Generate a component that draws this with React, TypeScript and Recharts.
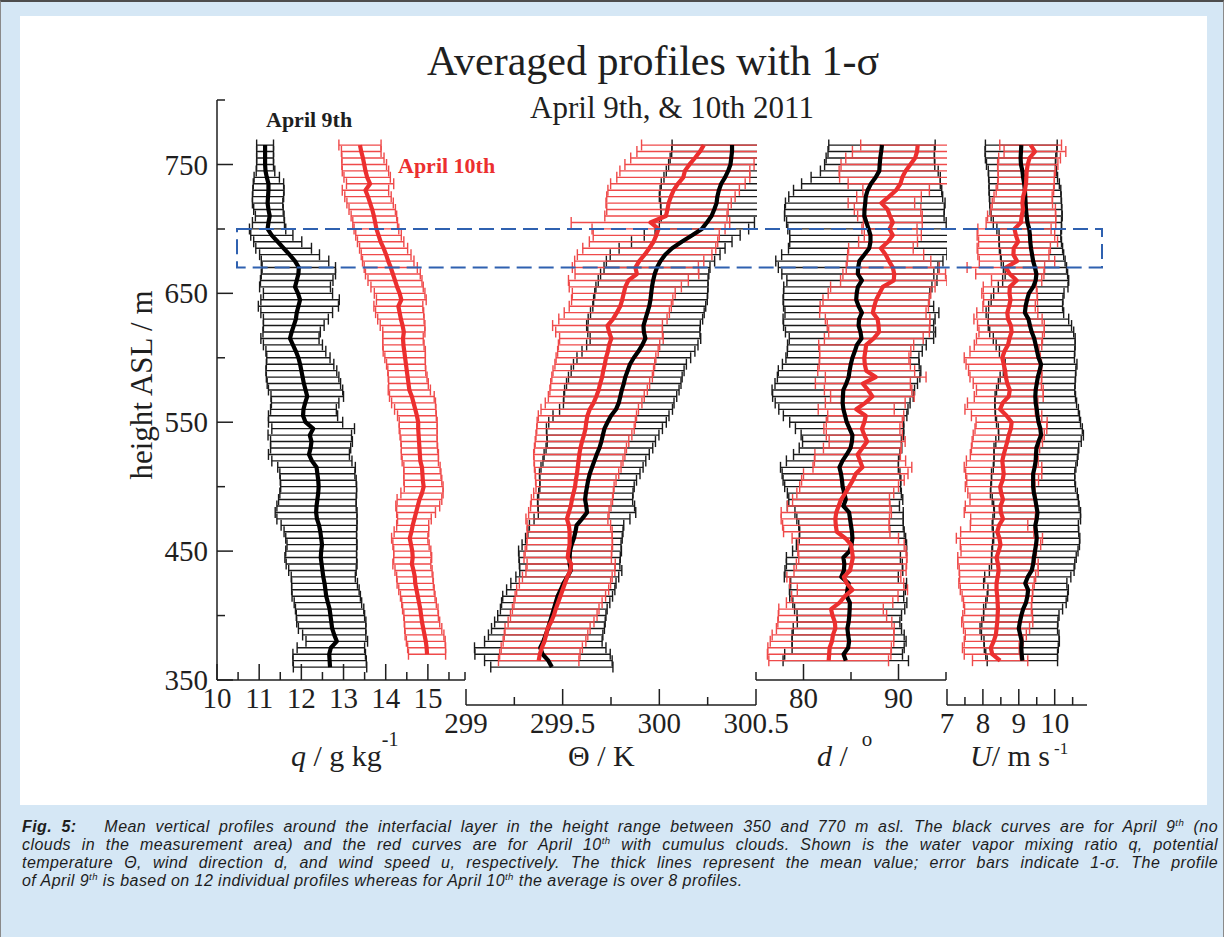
import { ScatterChart, Scatter, XAxis, YAxis, ErrorBar, ReferenceArea } from "recharts";

const SERIF = "'Liberation Serif', 'Times New Roman', Times, serif";
const SANS = "'Liberation Sans', Arial, Helvetica, sans-serif";
const INK = "#1f1f1f";
const RED = "#ec2f2f";
const RED_BAR = "#ef4a4a";
const BOX_BLUE = "#2f61b0";
const FRAME_BLUE = "#d5e7f5";

// heights (m asl), shared by all profiles; null = no value at that level
const HEIGHTS = [
  360, 365, 370, 375, 380, 385, 390, 395, 400, 405,
  410, 415, 420, 425, 430, 435, 440, 445, 450, 455,
  460, 465, 470, 475, 480, 485, 490, 495, 500, 505,
  510, 515, 520, 525, 530, 535, 540, 545, 550, 555,
  560, 565, 570, 575, 580, 585, 590, 595, 600, 605,
  610, 615, 620, 625, 630, 635, 640, 645, 650, 655,
  660, 665, 670, 675, 680, 685, 690, 695, 700, 705,
  710, 715, 720, 725, 730, 735, 740, 745, 750, 755,
  760, 765,
];

// q (g/kg), April 9th
const Q_APR9 = [
  12.68, 12.67, 12.66, 12.70, 12.84, 12.78, 12.73, 12.71, 12.69, 12.67,
  12.63, 12.59, 12.57, 12.55, 12.52, 12.50, 12.48, 12.46, 12.47, 12.49,
  12.47, 12.45, 12.42, 12.37, 12.35, 12.36, 12.38, 12.40, 12.41, 12.40,
  12.38, 12.36, 12.25, 12.18, 12.22, 12.24, 12.20, 12.28, 12.10, 12.04,
  12.05, 12.09, 12.14, 12.10, 12.06, 12.03, 12.00, 11.97, 11.93, 11.87,
  11.80, 11.73, 11.77, 11.82, 11.87, 11.89, 11.93, 11.97, 11.92, 11.85,
  11.89, 11.93, 11.94, 11.85, 11.72, 11.58, 11.44, 11.30, 11.20, 11.22,
  11.25, 11.22, 11.20, 11.21, 11.22, 11.22, 11.18, 11.15, 11.14, 11.14,
  11.14, 11.14,
];
const Q_APR9_SD = [
  0.87, 0.87, 0.86, 0.80, 0.73, 0.75, 0.80, 0.82, 0.81, 0.81,
  0.80, 0.81, 0.80, 0.78, 0.76, 0.80, 0.84, 0.85, 0.84, 0.83,
  0.84, 0.86, 0.90, 0.95, 0.97, 0.94, 0.92, 0.91, 0.90, 0.90,
  0.89, 0.92, 0.95, 0.96, 0.95, 0.97, 0.99, 0.98, 0.88, 0.82,
  0.78, 0.80, 0.86, 0.88, 0.87, 0.86, 0.84, 0.80, 0.75, 0.71,
  0.70, 0.69, 0.68, 0.72, 0.77, 0.85, 0.95, 0.93, 0.82, 0.84,
  0.86, 0.88, 0.87, 0.80, 0.71, 0.66, 0.57, 0.50, 0.43, 0.38,
  0.34, 0.35, 0.36, 0.37, 0.37, 0.36, 0.30, 0.22, 0.20, 0.20,
  0.20, 0.20,
];
// q (g/kg), April 10th
const Q_APR10 = [
  null, null, 14.98, 14.97, 14.95, 14.92, 14.89, 14.86, 14.84, 14.82,
  14.79, 14.76, 14.73, 14.70, 14.69, 14.66, 14.62, 14.64, 14.63, 14.60,
  14.57, 14.61, 14.64, 14.68, 14.72, 14.76, 14.80, 14.86, 14.90, 14.88,
  14.87, 14.86, 14.82, 14.81, 14.80, 14.79, 14.78, 14.77, 14.77, 14.74,
  14.70, 14.66, 14.62, 14.56, 14.54, 14.52, 14.50, 14.48, 14.46, 14.44,
  14.42, 14.41, 14.43, 14.40, 14.36, 14.33, 14.30, 14.37, 14.33, 14.27,
  14.22, 14.17, 14.12, 14.06, 14.01, 13.95, 13.88, 13.83, 13.78, 13.75,
  13.72, 13.68, 13.63, 13.58, 13.52, 13.63, 13.56, 13.52, 13.49, 13.46,
  13.42, 13.39,
];
const Q_APR10_SD = [
  null, null, 0.44, 0.45, 0.46, 0.46, 0.44, 0.42, 0.41, 0.42,
  0.41, 0.41, 0.42, 0.43, 0.43, 0.44, 0.45, 0.45, 0.44, 0.43,
  0.43, 0.41, 0.38, 0.40, 0.46, 0.52, 0.53, 0.50, 0.46, 0.45,
  0.44, 0.43, 0.43, 0.44, 0.43, 0.43, 0.44, 0.45, 0.45, 0.46,
  0.49, 0.52, 0.53, 0.50, 0.47, 0.46, 0.45, 0.46, 0.48, 0.50,
  0.49, 0.48, 0.50, 0.53, 0.55, 0.57, 0.58, 0.59, 0.60, 0.62,
  0.64, 0.65, 0.63, 0.61, 0.59, 0.57, 0.55, 0.54, 0.53, 0.53,
  0.54, 0.55, 0.55, 0.55, 0.55, 0.56, 0.55, 0.55, 0.53, 0.50,
  0.47, 0.50,
];

// potential temperature (K), April 9th
const TH_APR9 = [
  299.444, 299.426, 299.396, 299.384, 299.400, 299.412, 299.424, 299.434, 299.444, 299.454,
  299.464, 299.474, 299.490, 299.504, 299.524, 299.542, 299.536, 299.536, 299.538, 299.546,
  299.558, 299.566, 299.572, 299.600, 299.626, 299.622, 299.616, 299.620, 299.626, 299.632,
  299.640, 299.652, 299.664, 299.676, 299.690, 299.700, 299.708, 299.716, 299.732, 299.750,
  299.776, 299.790, 299.798, 299.806, 299.816, 299.824, 299.836, 299.848, 299.868, 299.892,
  299.912, 299.928, 299.920, 299.918, 299.928, 299.938, 299.948, 299.954, 299.958, 299.962,
  299.968, 299.976, 299.988, 300.006, 300.030, 300.066, 300.116, 300.170, 300.220, 300.246,
  300.270, 300.284, 300.296, 300.300, 300.308, 300.320, 300.340, 300.356, 300.368, 300.372,
  300.376, 300.376,
];
const TH_APR9_SD = [
  0.316, 0.330, 0.350, 0.340, 0.304, 0.296, 0.292, 0.286, 0.280, 0.276,
  0.280, 0.284, 0.280, 0.272, 0.266, 0.264, 0.260, 0.262, 0.266, 0.256,
  0.250, 0.246, 0.244, 0.248, 0.252, 0.250, 0.246, 0.244, 0.244, 0.250,
  0.260, 0.264, 0.266, 0.272, 0.276, 0.280, 0.290, 0.300, 0.304, 0.300,
  0.292, 0.286, 0.292, 0.296, 0.296, 0.294, 0.292, 0.292, 0.294, 0.292,
  0.288, 0.286, 0.290, 0.294, 0.296, 0.294, 0.292, 0.294, 0.292, 0.290,
  0.284, 0.280, 0.274, 0.280, 0.284, 0.274, 0.260, 0.248, 0.242, 0.246,
  0.260, 0.276, 0.290, 0.300, 0.304, 0.310, 0.316, 0.320, 0.320, 0.316,
  0.312, 0.310,
];
// potential temperature (K), April 10th
const TH_APR10 = [
  null, 299.376, 299.382, 299.392, 299.406, 299.414, 299.422, 299.440, 299.454, 299.464,
  299.476, 299.488, 299.500, 299.512, 299.524, 299.540, 299.544, 299.526, 299.530, 299.536,
  299.536, 299.536, 299.532, 299.522, 299.532, 299.542, 299.548, 299.556, 299.564, 299.568,
  299.574, 299.578, 299.582, 299.586, 299.592, 299.600, 299.610, 299.618, 299.622, 299.628,
  299.640, 299.660, 299.674, 299.686, 299.694, 299.704, 299.710, 299.718, 299.724, 299.734,
  299.740, 299.752, 299.740, 299.732, 299.760, 299.780, 299.798, 299.808, 299.816, 299.824,
  299.840, 299.884, 299.876, 299.896, 299.924, 299.948, 299.970, 299.984, 299.996, 299.954,
  300.034, 300.042, 300.048, 300.060, 300.074, 300.096, 300.124, 300.132, 300.156, 300.184,
  300.210, 300.230,
];
const TH_APR10_SD = [
  null, 0.208, 0.208, 0.210, 0.214, 0.216, 0.220, 0.222, 0.224, 0.224,
  0.228, 0.234, 0.238, 0.236, 0.232, 0.230, 0.228, 0.226, 0.224, 0.222,
  0.220, 0.220, 0.216, 0.212, 0.208, 0.208, 0.210, 0.206, 0.202, 0.208,
  0.216, 0.224, 0.230, 0.236, 0.238, 0.242, 0.248, 0.252, 0.254, 0.254,
  0.252, 0.250, 0.248, 0.252, 0.256, 0.260, 0.260, 0.258, 0.258, 0.260,
  0.262, 0.268, 0.276, 0.284, 0.280, 0.272, 0.264, 0.262, 0.266, 0.290,
  0.310, 0.320, 0.326, 0.334, 0.348, 0.344, 0.332, 0.326, 0.344, 0.410,
  0.316, 0.314, 0.324, 0.332, 0.340, 0.348, 0.344, 0.336, 0.334, 0.332,
  0.326, 0.322,
];

// wind direction (deg), April 9th
const D_APR9 = [
  null, 84.45, 84.22, 84.70, 84.80, 84.70, 84.62, 84.75, 84.82, 84.86,
  84.88, 84.55, 84.62, 84.75, 83.98, 84.25, 84.30, 84.20, 84.85, 85.05,
  85.15, 85.10, 85.00, 84.90, 84.80, 84.20, 84.45, 84.30, 84.12, 84.05,
  83.95, 83.78, 84.10, 84.55, 84.95, 85.10, 85.15, 84.85, 84.55, 84.38,
  84.20, 84.12, 84.15, 84.19, 84.50, 84.75, 84.85, 84.98, 85.15, 85.40,
  85.62, 86.10, 86.00, 85.80, 85.85, 86.15, 85.80, 85.55, 85.60, 85.72,
  86.15, 85.72, 85.75, 85.88, 86.40, 86.92, 87.05, 87.05, 86.85, 86.62,
  86.40, 86.42, 86.50, 86.55, 86.75, 87.10, 87.60, 87.98, 88.02, 88.08,
  88.18, 88.26,
];
const D_APR9_SD = [
  null, 6.6, 6.2, 5.9, 6.0, 5.9, 5.7, 5.4, 5.5, 5.8,
  6.0, 6.0, 6.1, 6.1, 6.0, 6.2, 6.1, 6.0, 6.0, 5.8,
  5.6, 5.5, 5.5, 5.6, 5.7, 5.9, 6.0, 6.0, 6.1, 6.2,
  6.2, 6.2, 5.9, 5.6, 5.4, 5.2, 5.4, 5.7, 6.0, 6.5,
  6.8, 7.1, 7.4, 7.5, 7.5, 7.5, 7.5, 7.2, 7.0, 7.1,
  7.3, 7.6, 7.9, 7.9, 8.0, 8.1, 7.9, 7.7, 7.7, 7.8,
  7.9, 8.0, 8.4, 8.8, 8.7, 8.5, 8.5, 8.5, 8.5, 8.4,
  8.4, 8.4, 8.4, 8.1, 7.8, 7.3, 6.8, 6.2, 5.8, 5.7,
  5.6, 5.6,
];
// wind direction (deg), April 10th
const D_APR10 = [
  null, 82.65, 82.70, 82.75, 83.00, 83.10, 83.35, 83.30, 83.05, 82.90,
  83.80, 84.35, 85.15, 84.55, 84.25, 84.90, 85.05, 85.20, 85.10, 85.00,
  84.40, 83.50, 83.40, 83.35, 83.45, 83.70, 83.95, 84.40, 84.80, 85.20,
  85.50, 86.20, 85.95, 85.70, 86.20, 86.70, 86.40, 86.15, 86.40, 86.55,
  85.55, 86.50, 87.25, 86.80, 86.25, 87.60, 86.60, 86.45, 86.40, 86.50,
  86.60, 87.40, 87.95, 87.90, 87.80, 87.30, 87.45, 87.65, 88.00, 88.35,
  89.50, 89.55, 89.40, 89.00, 88.65, 88.15, 88.90, 89.40, 89.05, 89.40,
  89.10, 88.85, 88.20, 89.00, 89.75, 90.20, 90.40, 90.75, 91.25, 91.75,
  91.95, 92.02,
];
const D_APR10_SD = [
  null, 6.3, 6.5, 6.5, 6.5, 6.4, 6.2, 6.0, 5.7, 5.5,
  5.6, 5.6, 5.8, 6.0, 6.0, 5.9, 5.8, 5.7, 5.7, 5.6,
  5.6, 5.6, 5.6, 5.7, 5.8, 5.4, 5.1, 5.1, 5.2, 5.4,
  5.5, 5.2, 4.8, 4.5, 4.1, 4.0, 4.0, 4.0, 4.0, 4.0,
  4.0, 4.2, 4.4, 4.6, 5.0, 5.3, 5.1, 4.8, 4.7, 4.8,
  5.0, 5.2, 5.3, 5.4, 5.5, 5.6, 5.7, 5.6, 5.4, 5.5,
  5.6, 5.4, 4.9, 4.4, 4.0, 3.4, 3.1, 3.0, 2.9, 3.1,
  3.4, 3.5, 3.5, 3.4, 3.5, 5.5, 6.6, 7.0, 7.3, 7.3,
  6.8, 6.0,
];

// wind speed (m/s), April 9th
const U_APR9 = [
  null, 9.10, 9.08, 9.07, 9.08, 9.04, 9.00, 9.03, 9.07, 9.12,
  9.20, 9.24, 9.26, 9.18, 9.25, 9.36, 9.40, 9.42, 9.45, 9.48,
  9.50, 9.48, 9.46, 9.50, 9.52, 9.49, 9.46, 9.42, 9.40, 9.40,
  9.40, 9.44, 9.47, 9.48, 9.49, 9.55, 9.62, 9.60, 9.55, 9.52,
  9.50, 9.47, 9.46, 9.47, 9.50, 9.53, 9.58, 9.62, 9.55, 9.51,
  9.47, 9.43, 9.36, 9.31, 9.27, 9.17, 9.19, 9.23, 9.28, 9.40,
  9.47, 9.49, 9.45, 9.40, 9.37, 9.34, 9.32, 9.31, 9.29, 9.24,
  9.22, 9.20, 9.19, 9.18, 9.17, 9.15, 9.12, 9.10, 9.06, 9.05,
  9.06, 9.07,
];
const U_APR9_SD = [
  null, 0.98, 1.00, 1.03, 1.05, 1.08, 1.08, 1.06, 1.05, 1.10,
  1.12, 1.12, 1.12, 1.16, 1.20, 1.18, 1.16, 1.18, 1.20, 1.21,
  1.20, 1.19, 1.20, 1.22, 1.20, 1.19, 1.20, 1.21, 1.18, 1.16,
  1.16, 1.15, 1.16, 1.17, 1.18, 1.19, 1.18, 1.17, 1.17, 1.17,
  1.16, 1.14, 1.12, 1.09, 1.07, 1.05, 1.01, 1.00, 1.00, 1.05,
  1.10, 1.14, 1.17, 1.16, 1.12, 1.08, 1.03, 1.00, 0.98, 0.97,
  0.92, 0.87, 0.88, 0.89, 0.88, 0.88, 0.87, 0.86, 0.90, 0.95,
  0.99, 1.00, 1.00, 1.00, 1.00, 0.98, 0.96, 0.95, 0.96, 0.98,
  1.00, 1.00,
];
// wind speed (m/s), April 10th
const U_APR10 = [
  null, 8.48, 8.26, 8.22, 8.30, 8.36, 8.38, 8.40, 8.41, 8.42,
  8.41, 8.40, 8.38, 8.38, 8.41, 8.44, 8.42, 8.38, 8.44, 8.49,
  8.46, 8.40, 8.45, 8.56, 8.50, 8.49, 8.56, 8.51, 8.48, 8.55,
  8.58, 8.56, 8.54, 8.58, 8.63, 8.68, 8.72, 8.78, 8.80, 8.66,
  8.48, 8.55, 8.72, 8.75, 8.68, 8.64, 8.62, 8.58, 8.54, 8.60,
  8.70, 8.74, 8.80, 8.78, 8.70, 8.68, 8.73, 8.77, 8.74, 8.75,
  8.94, 8.75, 8.64, 8.95, 8.85, 8.86, 8.98, 8.92, 8.88, 9.06,
  9.08, 9.12, 9.10, 9.12, 9.17, 9.20, 9.21, 9.22, 9.25, 9.30,
  9.45, 9.33,
];
const U_APR10_SD = [
  null, 0.77, 0.78, 0.79, 0.82, 0.85, 0.92, 0.99, 0.97, 0.93,
  0.95, 0.98, 1.01, 1.05, 1.06, 1.10, 1.12, 1.08, 1.05, 1.12,
  1.20, 1.02, 0.80, 0.90, 1.02, 0.98, 0.92, 0.93, 0.97, 1.00,
  1.06, 1.08, 1.00, 0.93, 0.95, 0.98, 0.99, 1.00, 0.99, 0.98,
  0.98, 0.98, 0.96, 0.93, 0.95, 1.00, 1.02, 1.05, 1.06, 0.96,
  0.94, 0.92, 0.91, 0.93, 0.95, 0.85, 0.73, 0.75, 0.77, 0.74,
  0.70, 0.95, 1.08, 1.05, 0.99, 1.02, 1.10, 1.08, 1.02, 0.97,
  0.95, 0.90, 0.84, 0.81, 0.80, 0.79, 0.78, 0.80, 0.84, 0.86,
  0.86, 0.86,
];

// axes
const Y_TICKS = [350, 400, 450, 500, 550, 600, 650, 700, 750, 800];
const Y_LABELED = [350, 450, 550, 650, 750];
const Q_TICKS = [10, 10.5, 11, 11.5, 12, 12.5, 13, 13.5, 14, 14.5, 15, 15.5, 15.88];
const Q_LABELED = [10, 11, 12, 13, 14, 15];
const TH_TICKS = [299, 299.25, 299.5, 299.75, 300, 300.25, 300.5];
const TH_LABELED = [299, 299.5, 300, 300.5];
const D_TICKS = [75, 80, 85, 90, 95];
const D_LABELED = [80, 90];
const U_TICKS = [7, 7.5, 8, 8.5, 9, 9.5, 10, 10.5];
const U_LABELED = [7, 8, 9, 10];
// interfacial layer marked by the dashed box (m asl)
const BOX_HEIGHTS = [670, 700];

// page geometry
const PLOT_TOP = 100;
const BASE_Y = 680; // pixel row of 350 m
const Y_MIN = 350;
const Y_MAX = 800;
const PX_PER_M = (BASE_Y - PLOT_TOP) / (Y_MAX - Y_MIN);
const MT = 20;
const MB = 5;
const SIDE = 40;
const XH = 50;
const YW = 120;

type Row = { h: number; v: number; s: number };

function profile(mean: (number | null)[], sd: (number | null)[]): Row[] {
  const out: Row[] = [];
  HEIGHTS.forEach((h, i) => {
    const v = mean[i];
    const s = sd[i];
    if (v != null && s != null) out.push({ h, v, s });
  });
  return out;
}

const noShape = () => <g />;

function xTick(labeled: number[]) {
  return (props: any) => {
    const { x, y, payload } = props;
    const major = labeled.includes(payload.value);
    return (
      <g>
        <line x1={x} x2={x} y1={y} y2={y - (major ? 16 : 8)} stroke={INK} strokeWidth={1.5} />
        {major && (
          <text x={x} y={y + 28} textAnchor="middle" fontFamily={SERIF} fontSize={29} fill={INK}>
            {payload.value}
          </text>
        )}
      </g>
    );
  };
}

function yTick(props: any) {
  const { x, y, payload } = props;
  const major = Y_LABELED.includes(payload.value);
  return (
    <g>
      <line x1={x} x2={x + (major ? 16 : 8)} y1={y} y2={y} stroke={INK} strokeWidth={1.5} />
      {major && (
        <text x={x - 9} y={y} dy="0.35em" textAnchor="end" fontFamily={SERIF} fontSize={29} fill={INK}>
          {payload.value}
        </text>
      )}
    </g>
  );
}

function Panel({
  plotLeft,
  plotRight,
  axisY,
  domain,
  ticks,
  labeled,
  black,
  red,
  showY = false,
}: {
  plotLeft: number;
  plotRight: number;
  axisY: number;
  domain: [number, number];
  ticks: number[];
  labeled: number[];
  black: Row[];
  red: Row[];
  showY?: boolean;
}) {
  // panels with the lower x axis just get a longer plot area
  const yLow = Y_MIN - (axisY - BASE_Y) / PX_PER_M;
  const yw = showY ? YW : 0;
  const width = SIDE + yw + (plotRight - plotLeft) + SIDE;
  const height = MT + (axisY - PLOT_TOP) + XH + MB;
  // error bars that run past the right end of the axis are cut there, tick labels below are kept
  const cutX = SIDE + yw + (plotRight - plotLeft) + 1;
  const cutY = MT + (axisY - PLOT_TOP) - 2;
  const clip = `polygon(0 0, ${cutX}px 0, ${cutX}px ${cutY}px, ${width}px ${cutY}px, ${width}px ${height}px, 0 ${height}px)`;
  return (
    <div style={{ position: "absolute", left: plotLeft - yw - SIDE, top: PLOT_TOP - MT, clipPath: clip }}>
      <ScatterChart width={width} height={height} margin={{ top: MT, right: SIDE, bottom: MB, left: SIDE }}>
        <XAxis
          type="number"
          dataKey="v"
          domain={domain}
          ticks={ticks}
          interval={0}
          allowDataOverflow
          height={XH}
          tickSize={0}
          tickMargin={0}
          tickLine={false}
          axisLine={{ stroke: INK, strokeWidth: 1.5 }}
          tick={xTick(labeled)}
        />
        <YAxis
          type="number"
          dataKey="h"
          domain={[yLow, Y_MAX]}
          allowDataOverflow
          hide={!showY}
          width={yw}
          ticks={Y_TICKS}
          interval={0}
          tickSize={0}
          tickMargin={0}
          tickLine={false}
          axisLine={{ stroke: INK, strokeWidth: 1.5 }}
          tick={yTick}
        />
        <Scatter data={black} fill="none" shape={noShape} isAnimationActive={false}>
          <ErrorBar dataKey="s" direction="x" width={5.5} stroke="#1a1a1a" strokeWidth={1.4} isAnimationActive={false} />
        </Scatter>
        <Scatter data={red} fill="none" shape={noShape} isAnimationActive={false}>
          <ErrorBar dataKey="s" direction="x" width={5.5} stroke={RED_BAR} strokeWidth={1.4} isAnimationActive={false} />
        </Scatter>
        <Scatter
          data={black}
          fill="none"
          shape={noShape}
          line={{ stroke: "#000", strokeWidth: 4.2, strokeLinejoin: "round" }}
          lineJointType="linear"
          isAnimationActive={false}
        />
        <Scatter
          data={red}
          fill="none"
          shape={noShape}
          line={{ stroke: RED, strokeWidth: 4.2, strokeLinejoin: "round" }}
          lineJointType="linear"
          isAnimationActive={false}
        />
      </ScatterChart>
    </div>
  );
}

function DashedBox() {
  const left = 237;
  const right = 1102;
  return (
    <div style={{ position: "absolute", left: left - 2, top: PLOT_TOP - MT }}>
      <ScatterChart width={right - left + 4} height={MT + (BASE_Y - PLOT_TOP) + MB} margin={{ top: MT, right: 2, bottom: MB, left: 2 }}>
        <XAxis type="number" dataKey="x" domain={[0, 1]} hide allowDataOverflow />
        <YAxis type="number" dataKey="h" domain={[Y_MIN, Y_MAX]} hide allowDataOverflow />
        <ReferenceArea
          y1={BOX_HEIGHTS[0]}
          y2={BOX_HEIGHTS[1]}
          fill="none"
          fillOpacity={0}
          stroke={BOX_BLUE}
          strokeWidth={2}
          strokeDasharray="15 7"
          ifOverflow="visible"
        />
      </ScatterChart>
    </div>
  );
}

const sup = { fontSize: "0.6em", lineHeight: 0, verticalAlign: "0.6em" } as const;
const lineStyle = { textAlign: "justify", textAlignLast: "justify", whiteSpace: "nowrap" } as const;

export default function App() {
  return (
    <div style={{ position: "relative", width: 1224, height: 937, overflow: "hidden" }}>
      <style>{"body{margin:0}"}</style>
      <div
        style={{
          position: "absolute",
          inset: 0,
          background: FRAME_BLUE,
          borderTop: "2px solid #4d4d4d",
          borderLeft: "1px solid #8a8a8a",
          borderRight: "1px solid #8a8a8a",
          boxSizing: "border-box",
        }}
      />
      <div style={{ position: "absolute", left: 20, top: 16, width: 1187, height: 789, background: "#fff" }} />

      <svg width={1224} height={937} style={{ position: "absolute", left: 0, top: 0 }}>
        <g fontFamily={SERIF} fill={INK}>
          <text x={653} y={75} textAnchor="middle" fontSize={42}>
            Averaged profiles with 1-σ
          </text>
          <text x={672} y={118} textAnchor="middle" fontSize={31}>
            April 9th, &amp; 10th 2011
          </text>
          <text x={266} y={127} fontSize={22} fontWeight="bold">
            April 9th
          </text>
          <text x={398} y={173} fontSize={22} fontWeight="bold" fill={RED}>
            April 10th
          </text>
          <text transform="translate(152, 385) rotate(-90)" textAnchor="middle" fontSize={31}>
            height ASL / m
          </text>
          <text x={291} y={766} fontSize={30}>
            <tspan fontStyle="italic">q</tspan> / g kg
            <tspan dy={-20} fontSize={20}>-1</tspan>
          </text>
          <text x={568} y={766} fontSize={30}>
            Θ / K
          </text>
          <text x={817} y={766} fontSize={30}>
            <tspan fontStyle="italic">d</tspan> /
            <tspan dx={14} dy={-20} fontSize={21}>o</tspan>
          </text>
          <text x={970} y={766} fontSize={30}>
            <tspan fontStyle="italic">U</tspan>/ m s
            <tspan dx={4} dy={-12} fontSize={17}>-1</tspan>
          </text>
        </g>
      </svg>

      <Panel
        plotLeft={217}
        plotRight={465}
        axisY={680}
        domain={[10, 15.88]}
        ticks={Q_TICKS}
        labeled={Q_LABELED}
        black={profile(Q_APR9, Q_APR9_SD)}
        red={profile(Q_APR10, Q_APR10_SD)}
        showY
      />
      <Panel
        plotLeft={466}
        plotRight={756}
        axisY={705}
        domain={[299, 300.5]}
        ticks={TH_TICKS}
        labeled={TH_LABELED}
        black={profile(TH_APR9, TH_APR9_SD)}
        red={profile(TH_APR10, TH_APR10_SD)}
      />
      <Panel
        plotLeft={756}
        plotRight={946}
        axisY={680}
        domain={[75, 95]}
        ticks={D_TICKS}
        labeled={D_LABELED}
        black={profile(D_APR9, D_APR9_SD)}
        red={profile(D_APR10, D_APR10_SD)}
      />
      <Panel
        plotLeft={947}
        plotRight={1087}
        axisY={705}
        domain={[7, 10.9]}
        ticks={U_TICKS}
        labeled={U_LABELED}
        black={profile(U_APR9, U_APR9_SD)}
        red={profile(U_APR10, U_APR10_SD)}
      />
      <DashedBox />

      <div
        style={{
          position: "absolute",
          left: 22,
          top: 818,
          width: 1196,
          fontFamily: SANS,
          fontStyle: "italic",
          fontSize: 16,
          letterSpacing: "0.45px",
          lineHeight: "18px",
          color: "#1d1d1d",
        }}
      >
        <div style={lineStyle}>
          <b>Fig. 5:</b>&nbsp;&nbsp; Mean vertical profiles around the interfacial layer in the height range between 350 and 770 m
          asl. The black curves are for April 9<span style={sup}>th</span> (no
        </div>
        <div style={lineStyle}>
          clouds in the measurement area) and the red curves are for April 10<span style={sup}>th</span> with cumulus clouds. Shown
          is the water vapor mixing ratio q, potential
        </div>
        <div style={lineStyle}>
          temperature Θ, wind direction d, and wind speed u, respectively. The thick lines represent the mean value; error bars
          indicate 1-σ. The profile
        </div>
        <div style={{ whiteSpace: "nowrap" }}>
          of April 9<span style={sup}>th</span> is based on 12 individual profiles whereas for April 10<span style={sup}>th</span>{" "}
          the average is over 8 profiles.
        </div>
      </div>
    </div>
  );
}
